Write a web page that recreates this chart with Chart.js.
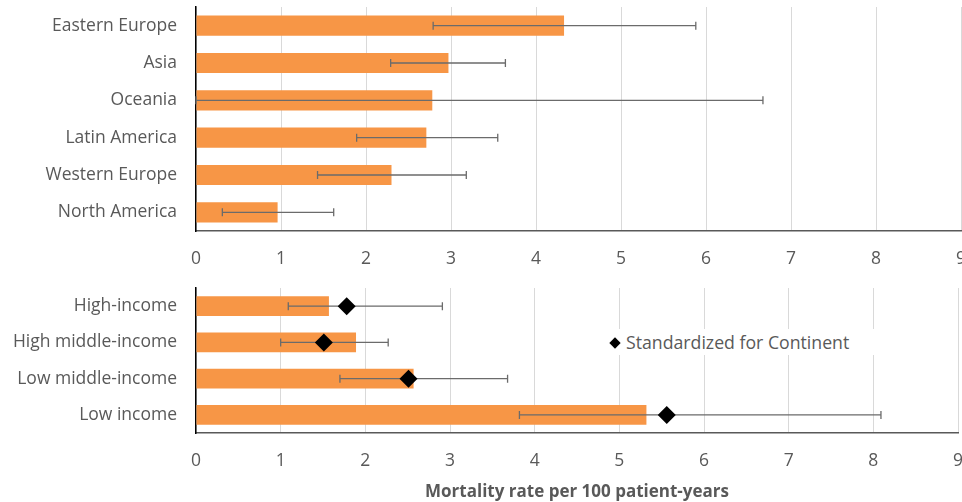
<!DOCTYPE html>
<html>
<head>
<meta charset="utf-8">
<script src="https://cdn.jsdelivr.net/npm/chart.js@4"></script>
<style>
  body { margin: 0; background: #fff; overflow: hidden; }
  .box { position: absolute; left: 0; width: 967px; }
  #top { top: 0; height: 270px; }
  #bottom { top: 275px; height: 227px; }
  #legend { position: absolute; left: 600px; top: 329px; width: 270px; height: 26px;
    background: #fff; font: 17.7px 'Open Sans'; color: #595959; line-height: 26px; padding-left: 11px; }
  #legend span.d { display: inline-block; width: 8px; height: 8px; background: #000;
    transform: rotate(45deg); margin-right: 7px; position: relative; top: -2px; }
</style>
</head>
<body>
<div class="box" id="top"><canvas id="chartTop"></canvas></div>
<div class="box" id="bottom"><canvas id="chartBottom"></canvas></div>
<div id="legend"><span class="d"></span>Standardized for Continent</div>
<script>
// continents
var continents = ['Eastern Europe', 'Asia', 'Oceania', 'Latin America', 'Western Europe', 'North America'];
var contRate = [4.33, 2.97, 2.78, 2.71, 2.30, 0.96];
var contLow = [2.79, 2.29, 0.0, 1.89, 1.43, 0.31];
var contHigh = [5.88, 3.64, 6.67, 3.55, 3.18, 1.62];

// income groups
var incomes = ['High-income', 'High middle-income', 'Low middle-income', 'Low income'];
var incRate = [1.57, 1.89, 2.57, 5.32];
var incStd = [1.78, 1.51, 2.51, 5.56];
var incLow = [1.09, 1.00, 1.70, 3.82];
var incHigh = [2.91, 2.27, 3.68, 8.09];

var xTicks = [0, 1, 2, 3, 4, 5, 6, 7, 8, 9];

var FONT = 'Open Sans';
var GREY = '#595959';

// draws the CI whiskers right after the bar dataset
var errorBars = {
  id: 'errorBars',
  afterDatasetDraw: function (chart, args, opts) {
    if (args.index !== 0) return;
    var ctx = chart.ctx, xs = chart.scales.x, ys = chart.scales.y;
    ctx.save();
    ctx.strokeStyle = '#6b6b6b';
    ctx.lineWidth = 1.3;
    opts.low.forEach(function (lo, i) {
      var y = ys.getPixelForValue(i);
      var x1 = xs.getPixelForValue(lo), x2 = xs.getPixelForValue(opts.high[i]);
      ctx.beginPath();
      ctx.moveTo(x1, y); ctx.lineTo(x2, y);
      ctx.moveTo(x1, y - 4); ctx.lineTo(x1, y + 4);
      ctx.moveTo(x2, y - 4); ctx.lineTo(x2, y + 4);
      ctx.stroke();
    });
    ctx.restore();
  }
};

function xScale(height, withTitle) {
  return {
    min: 0, max: 9,
    afterBuildTicks: function (s) { s.ticks = xTicks.map(function (v) { return { value: v }; }); },
    afterFit: function (s) { s.height = height; s.paddingLeft = 0; s.paddingRight = 0; },
    grid: { color: '#d9d9d9', lineWidth: 1, drawTicks: false },
    border: { color: GREY, width: 1.5 },
    ticks: { color: GREY, font: { family: FONT, size: 17.5 }, padding: 18, maxRotation: 0 },
    title: {
      display: withTitle, text: 'Mortality rate per 100 patient-years',
      color: GREY, font: { family: FONT, size: 17, weight: 'bold' }, padding: { top: 4, bottom: 0 }
    }
  };
}

function yScale() {
  return {
    afterFit: function (s) { s.width = 196; s.paddingTop = 0; s.paddingBottom = 0; },
    grid: { display: false, drawTicks: false },
    border: { color: '#000', width: 1.5 },
    ticks: { color: GREY, font: { family: FONT, size: 17.5 }, padding: 19 }
  };
}

new Chart('chartTop', {
  type: 'bar',
  data: {
    labels: continents,
    datasets: [{
      data: contRate, backgroundColor: '#F79646', order: 2,
      categoryPercentage: 0.54, barPercentage: 1
    }]
  },
  options: {
    indexAxis: 'y', responsive: true, maintainAspectRatio: false, animation: false,
    layout: { padding: { top: 7, right: 6, left: 0, bottom: 0 } },
    plugins: { legend: { display: false }, tooltip: { enabled: false }, errorBars: { low: contLow, high: contHigh } },
    scales: { x: xScale(39, false), y: yScale() }
  },
  plugins: [errorBars]
});

new Chart('chartBottom', {
  type: 'bar',
  data: {
    labels: incomes,
    datasets: [{
      type: 'bar', data: incRate, backgroundColor: '#F79646', order: 2,
      categoryPercentage: 0.55, barPercentage: 1
    }, {
      type: 'line', label: 'Standardized for Continent', data: incStd, order: 1,
      showLine: false, pointStyle: 'rectRot', pointRadius: 9,
      pointBackgroundColor: '#000', pointBorderColor: '#000', pointBorderWidth: 0
    }]
  },
  options: {
    indexAxis: 'y', responsive: true, maintainAspectRatio: false, animation: false,
    layout: { padding: { top: 13, right: 6, left: 0, bottom: 0 } },
    plugins: { legend: { display: false }, tooltip: { enabled: false }, errorBars: { low: incLow, high: incHigh } },
    scales: { x: xScale(69, true), y: yScale() }
  },
  plugins: [errorBars]
});
</script>
</body>
</html>
